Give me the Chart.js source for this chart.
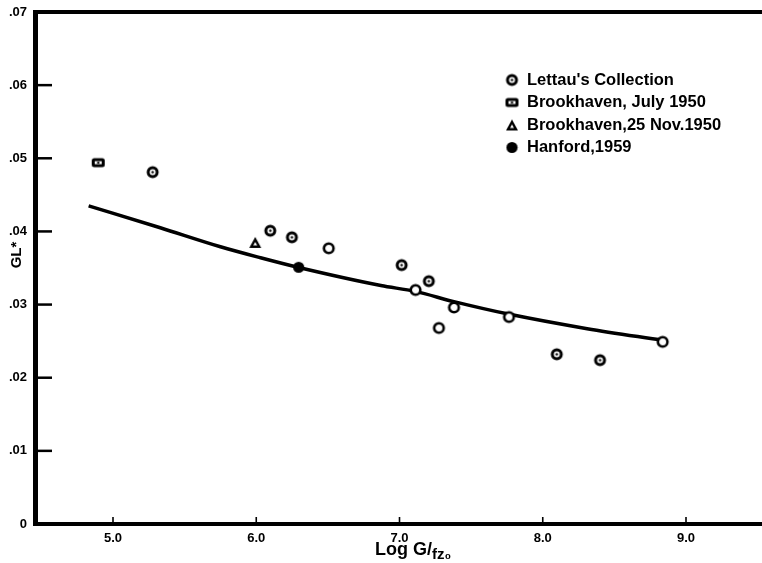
<!DOCTYPE html>
<html>
<head>
<meta charset="utf-8">
<script src="https://cdn.jsdelivr.net/npm/chart.js@4"></script>
<style>
  html, body { margin: 0; padding: 0; background: #fff; }
  #wrap { width: 762px; height: 563px; }
</style>
</head>
<body>
<div id="wrap"><canvas id="chart" width="762" height="563"></canvas></div>
<script>
// --- data ---
const xTickValues = [5, 6, 7, 8, 9];
const xTickLabels = ['5.0', '6.0', '7.0', '8.0', '9.0'];
const yTickValues = [0, 0.01, 0.02, 0.03, 0.04, 0.05, 0.06, 0.07];
const yTickLabels = ['0', '.01', '.02', '.03', '.04', '.05', '.06', '.07'];

// Lettau's collection (dotted circles and plain circles)
const lettauDotX = [5.277, 6.098, 6.249, 7.015, 7.205, 8.098, 8.40];
const lettauDotY = [0.0481, 0.0401, 0.0392, 0.0354, 0.0332, 0.0232, 0.0224];
const lettauOpenX = [6.506, 7.112, 7.275, 7.38, 7.764, 8.837];
const lettauOpenY = [0.0377, 0.0320, 0.0268, 0.0296, 0.0283, 0.0249];
const brookJulyX = [4.897];
const brookJulyY = [0.0494];
const brookNovX = [5.993];
const brookNovY = [0.0385];
const hanfordX = [6.296];
const hanfordY = [0.0351];

// fitted curve
const curveX = [4.83, 5.33, 5.75, 6.03, 6.29, 6.87, 7.11, 7.38, 7.76, 8.31, 8.84];
const curveY = [0.0435, 0.0405, 0.0379, 0.0364, 0.0351, 0.0326, 0.0318, 0.0304, 0.0287, 0.0267, 0.0251];

const legendLabels = ["Lettau's Collection", 'Brookhaven, July 1950', 'Brookhaven,25 Nov.1950', 'Hanford,1959'];

const FONT = '"Liberation Sans", Arial, sans-serif';
const pts = (xs, ys) => xs.map((x, i) => ({ x, y: ys[i] }));

// --- marker images ---
function makeImg(w, h, draw) {
    const c = document.createElement('canvas');
    c.width = w; c.height = h;
    const g = c.getContext('2d');
    draw(g, w, h);
    return c;
}
const ringDot = makeImg(15, 15, g => {
    g.beginPath(); g.arc(7.5, 7.5, 4.5, 0, Math.PI * 2);
    g.fillStyle = '#fff'; g.fill();
    g.lineWidth = 3; g.strokeStyle = '#000'; g.stroke();
    g.beginPath(); g.arc(7.5, 7.5, 1.2, 0, Math.PI * 2);
    g.fillStyle = '#000'; g.fill();
});
const ringOpen = makeImg(15, 15, g => {
    g.beginPath(); g.arc(7.5, 7.5, 4.8, 0, Math.PI * 2);
    g.fillStyle = '#fff'; g.fill();
    g.lineWidth = 2.6; g.strokeStyle = '#000'; g.stroke();
});
const squareDot = makeImg(15, 12, g => {
    g.fillStyle = '#000';
    g.beginPath(); g.roundRect(1, 1.5, 13, 9, 2.5); g.fill();
    g.fillStyle = '#fff'; g.fillRect(4, 4.5, 7, 3);
    g.fillStyle = '#000'; g.fillRect(6.5, 5, 2, 2);
});
const triangle = makeImg(14, 13, g => {
    g.fillStyle = '#000';
    g.beginPath(); g.moveTo(7, 1); g.lineTo(13, 12); g.lineTo(1, 12); g.closePath(); g.fill();
    g.fillStyle = '#fff';
    g.beginPath(); g.moveTo(7, 6); g.lineTo(9, 9.5); g.lineTo(5, 9.5); g.closePath(); g.fill();
});
const filled = makeImg(13, 13, g => {
    g.beginPath(); g.arc(6.5, 6.5, 5.6, 0, Math.PI * 2);
    g.fillStyle = '#000'; g.fill();
});
const legendIcons = [ringDot, squareDot, triangle, filled];

// --- extra drawing: frame top, inside ticks, legend, axis titles ---
const decorations = {
    id: 'decorations',
    afterDatasetsDraw(chart) {
        const { ctx, chartArea: a, scales: { x, y } } = chart;
        ctx.save();
        ctx.strokeStyle = '#000';
        // top frame line, and the bottom axis running on to the edge
        ctx.lineWidth = 4;
        ctx.beginPath(); ctx.moveTo(a.left - 2, a.top); ctx.lineTo(chart.width, a.top); ctx.stroke();
        ctx.beginPath(); ctx.moveTo(a.right - 2, a.bottom); ctx.lineTo(chart.width, a.bottom); ctx.stroke();
        // y ticks pointing into the plot
        ctx.lineWidth = 2.5;
        yTickValues.slice(1, -1).forEach(v => {
            const py = y.getPixelForValue(v);
            ctx.beginPath(); ctx.moveTo(a.left, py); ctx.lineTo(a.left + 17, py); ctx.stroke();
        });
        // x ticks pointing up
        ctx.lineWidth = 1.6;
        xTickValues.forEach(v => {
            const px = x.getPixelForValue(v);
            ctx.beginPath(); ctx.moveTo(px, a.bottom); ctx.lineTo(px, a.bottom - 7); ctx.stroke();
        });
        // legend
        ctx.fillStyle = '#000';
        ctx.textBaseline = 'middle';
        ctx.font = 'bold 16.5px ' + FONT;
        const lx = a.left + 477, ly = a.top + 68;
        legendLabels.forEach((t, i) => {
            const yy = ly + i * 22.5;
            const img = legendIcons[i];
            ctx.drawImage(img, lx - img.width / 2, yy - img.height / 2);
            ctx.fillText(t, lx + 15, yy);
        });
        // x title
        ctx.textAlign = 'left';
        ctx.font = 'bold 18px ' + FONT;
        const main = 'Log G/';
        ctx.fillText(main, 375, 550);
        const w = ctx.measureText(main).width;
        ctx.font = 'bold 15px ' + FONT;
        ctx.fillText('fz₀', 375 + w, 555);
        // y title
        ctx.translate(17, 255);
        ctx.rotate(-Math.PI / 2);
        ctx.textAlign = 'center';
        ctx.font = 'bold 15px ' + FONT;
        ctx.fillText('GL*', 0, 0);
        ctx.restore();
    }
};

new Chart(document.getElementById('chart'), {
    type: 'scatter',
    data: {
        datasets: [
            { label: 'curve', data: pts(curveX, curveY), showLine: true, borderColor: '#000', borderWidth: 3.5,
              pointRadius: 0, cubicInterpolationMode: 'monotone', order: 10 },
            { label: legendLabels[0], data: pts(lettauDotX, lettauDotY), pointStyle: ringDot, order: 1 },
            { label: legendLabels[0], data: pts(lettauOpenX, lettauOpenY), pointStyle: ringOpen, order: 1 },
            { label: legendLabels[1], data: pts(brookJulyX, brookJulyY), pointStyle: squareDot, order: 1 },
            { label: legendLabels[2], data: pts(brookNovX, brookNovY), pointStyle: triangle, order: 1 },
            { label: legendLabels[3], data: pts(hanfordX, hanfordY), pointStyle: filled, order: 0 }
        ]
    },
    options: {
        responsive: false,
        animation: false,
        layout: { padding: { top: 12, right: 0, left: 0, bottom: 0 } },
        plugins: { legend: { display: false }, tooltip: { enabled: false } },
        scales: {
            x: {
                type: 'linear', min: 4.4555, max: 9.4956,
                afterBuildTicks: s => { s.ticks = xTickValues.map(v => ({ value: v })); },
                afterFit: s => { s.height = 39; },
                grid: { display: false },
                border: { display: true, color: '#000', width: 4 },
                ticks: {
                    color: '#000', padding: -1, font: { family: FONT, size: 13, weight: 'bold' },
                    maxRotation: 0, autoSkip: false,
                    callback: v => xTickLabels[xTickValues.indexOf(v)]
                }
            },
            y: {
                type: 'linear', min: 0, max: 0.07,
                afterBuildTicks: s => { s.ticks = yTickValues.map(v => ({ value: v })); },
                afterFit: s => { s.width = 35; },
                grid: { display: false },
                border: { display: true, color: '#000', width: 5 },
                ticks: {
                    color: '#000', padding: 0, font: { family: FONT, size: 13, weight: 'bold' },
                    autoSkip: false,
                    callback: v => yTickLabels[yTickValues.findIndex(t => Math.abs(t - v) < 1e-9)]
                }
            }
        }
    },
    plugins: [decorations]
});
</script>
</body>
</html>
